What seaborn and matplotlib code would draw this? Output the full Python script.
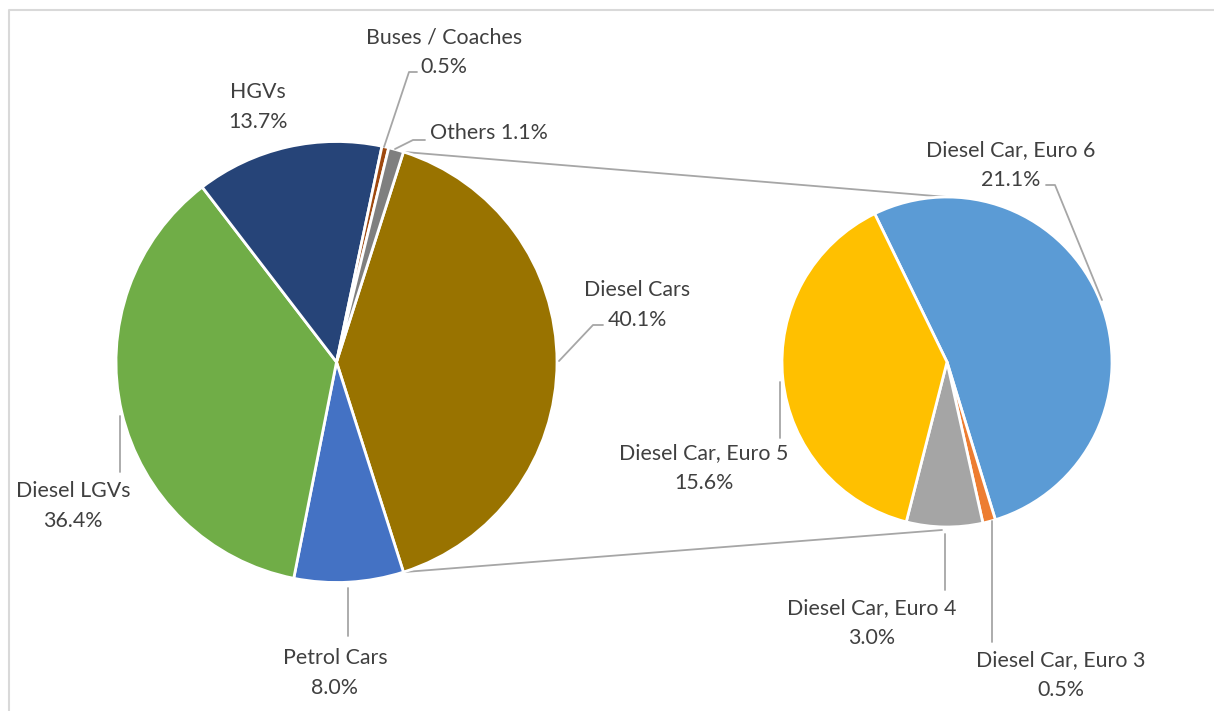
import numpy as np
import matplotlib
matplotlib.use("Agg")
import matplotlib.pyplot as plt
import seaborn as sns

# Share of emissions by vehicle type (main pie, clockwise from the split slice)
main_labels = ["Diesel Cars", "Petrol Cars", "Diesel LGVs", "HGVs", "Buses / Coaches", "Others"]
main_values = [40.1, 8.0, 36.4, 13.7, 0.5, 1.1]
main_colors = ["#997300", "#4472C4", "#70AD47", "#264478", "#9E480E", "#7F7F7F"]

# Breakdown of diesel cars by Euro standard (secondary pie, clockwise)
sub_labels = ["Diesel Car, Euro 6", "Diesel Car, Euro 3", "Diesel Car, Euro 4", "Diesel Car, Euro 5"]
sub_values = [21.1, 0.5, 3.0, 15.6]
sub_colors = ["#5B9BD5", "#ED7D31", "#A5A5A5", "#FFC000"]

sns.set_theme(style="white")
plt.rcParams["font.family"] = ["Lato", "DejaVu Sans"]

W, H = 1214, 711
fig = plt.figure(figsize=(W / 100, H / 100), dpi=100)
ax = fig.add_axes([0, 0, 1, 1])


def Y(y):
    """Convert a top-down pixel row to the axes' bottom-up coordinate."""
    return H - y


TEXT = "#404040"
LEAD = "#A6A6A6"

# Main pie: split slice centred on the right-hand side
c1, r1 = (336.5, Y(362)), 220.5
total1 = sum(main_values)
start1 = 360 * main_values[0] / total1 / 2
ax.pie(main_values, radius=r1, center=c1, startangle=start1, counterclock=False,
       colors=main_colors, wedgeprops=dict(edgecolor="white", linewidth=2.0))

# Secondary pie
c2, r2 = (947, Y(362)), 165
ax.pie(sub_values, radius=r2, center=c2, startangle=116, counterclock=False,
       colors=sub_colors, wedgeprops=dict(edgecolor="white", linewidth=2.0))

# Connector lines from the split slice edges to the secondary pie
a = np.deg2rad(start1)
top_pt = (c1[0] + r1 * np.cos(a), c1[1] + r1 * np.sin(a))
bot_pt = (c1[0] + r1 * np.cos(-a), c1[1] + r1 * np.sin(-a))
ax.plot([top_pt[0], c2[0]], [top_pt[1], c2[1] + r2], color=LEAD, lw=1.3, zorder=0.5)
ax.plot([bot_pt[0], c2[0] - 5], [bot_pt[1], c2[1] - r2 - 3], color=LEAD, lw=1.3, zorder=0.5)

fs = 15.4


def label(x, y, name, value, one_line=False, ha="center"):
    if one_line:
        ax.text(x, Y(y), f"{name} {value:.1f}%", ha=ha, va="center", fontsize=fs, color=TEXT)
    else:
        ax.text(x, Y(y - 15), name, ha=ha, va="center", fontsize=fs, color=TEXT)
        ax.text(x, Y(y + 15), f"{value:.1f}%", ha=ha, va="center", fontsize=fs, color=TEXT)


def leader(pts):
    xs, ys = zip(*pts)
    ax.plot(xs, [Y(v) for v in ys], color=LEAD, lw=1.3, zorder=3)


mv = dict(zip(main_labels, main_values))
sv = dict(zip(sub_labels, sub_values))

label(637, 305, "Diesel Cars", mv["Diesel Cars"])
leader([(559, 361), (593, 325), (603, 325)])

label(335, 673, "Petrol Cars", mv["Petrol Cars"])
leader([(348, 588), (348, 636)])

label(73, 506, "Diesel LGVs", mv["Diesel LGVs"])
leader([(120, 416), (120, 472)])

label(258, 107, "HGVs", mv["HGVs"])

label(444, 52, "Buses / Coaches", mv["Buses / Coaches"])
leader([(384, 147), (409, 72), (417, 72)])

label(489, 133, "Others", mv["Others"], one_line=True)
leader([(395, 149), (413, 140), (425, 140)])

label(1011, 165, "Diesel Car, Euro 6", sv["Diesel Car, Euro 6"])
leader([(1046, 185), (1055, 185), (1102, 300)])

label(704, 468, "Diesel Car, Euro 5", sv["Diesel Car, Euro 5"])
leader([(780, 382), (780, 438)])

label(872, 623, "Diesel Car, Euro 4", sv["Diesel Car, Euro 4"])
leader([(945, 534), (945, 590)])

label(1061, 675, "Diesel Car, Euro 3", sv["Diesel Car, Euro 3"])
leader([(992, 521), (992, 642)])

# Chart area border (top and left edges visible)
ax.plot([8.5, 8.5, W + 5], [-5, Y(10), Y(10)], color="#D9D9D9", lw=1.5, zorder=0.2)

ax.set_xlim(0, W)
ax.set_ylim(0, H)
ax.set_aspect("auto")
ax.axis("off")

fig.savefig("out.png", dpi=100, facecolor="white")
